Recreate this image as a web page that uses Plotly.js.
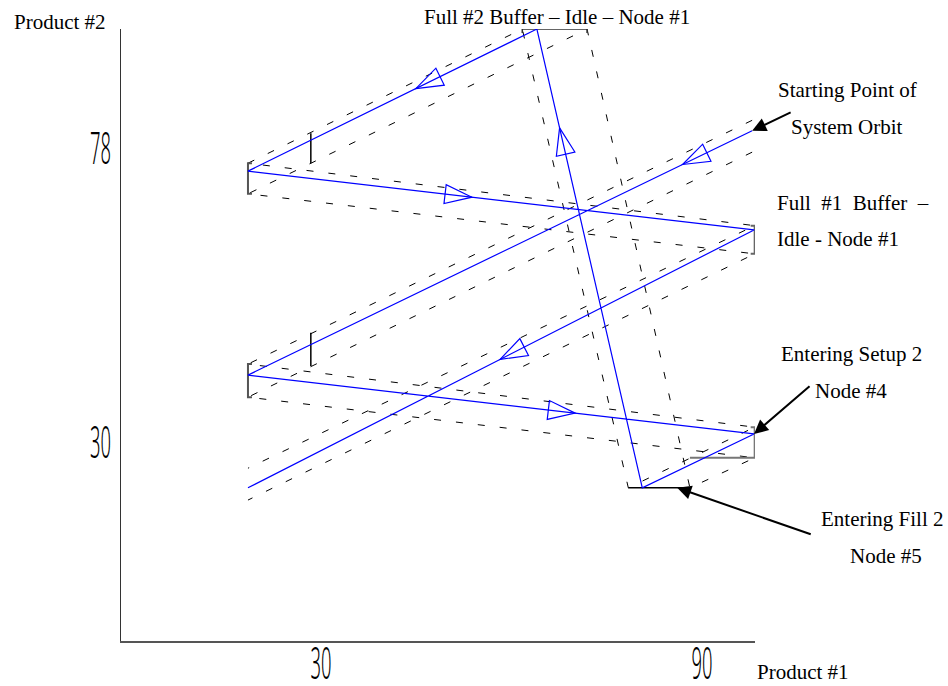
<!DOCTYPE html>
<html>
<head>
<meta charset="utf-8">
<script src="https://cdn.plot.ly/plotly-3.0.1.min.js"></script>
<style>
  html, body { margin: 0; padding: 0; background: #fff; }
  #chart { width: 948px; height: 686px; }
</style>
</head>
<body>
<div id="chart"></div>
<script>
// ---- Data ----
// System orbit (solid blue), in visiting order, starting at the "Starting Point"
const orbitX = [97.9, 18.5, 98.2, 80.6, 64.0, 18.5, 98.2, 18.5];
const orbitY = [80.9, 41.0, 31.4, 22.6, 97.5, 74.3, 64.7, 22.6];
// Envelope of the orbit (two dashed lines)
const upperX = [97.9, 18.5, 98.3, 78.4, 61.7, 18.5, 98.3, 18.5];
const upperY = [82.6, 42.8, 32.5, 22.6, 97.5, 75.6, 65.4, 25.8];
const lowerX = [97.9, 18.5, 98.3, 88.1, 71.9, 18.5, 98.3, 18.5];
const lowerY = [77.4, 37.4, 27.5, 22.6, 97.5, 70.6, 60.8, 20.6];
// Direction arrows on the orbit: segment index and fraction along the segment
const arrowSeg = [0, 1, 3, 4, 5, 6];
const arrowPos = [0.114, 0.62, 0.756, 0.377, 0.416, 0.478];
// Solid vertical markers across the envelope
const barX  = [28.4, 28.4];
const barY0 = [80.5, 47.9];
const barY1 = [75.6, 42.5];
// Callout arrow tips (Starting point, Node #4, Node #5)
const calloutX = [97.9, 98.2, 86.1];
const calloutY = [80.9, 31.4, 22.6];
// Tick labels
const xTickVals = [30, 90];
const xTickText = ['30', '90'];
const yTickVals = [30, 78];
const yTickText = ['30', '78'];

// ---- Layout geometry ----
const W = 948, H = 686;
const M = { l: 121, r: 193, t: 29, b: 45 };
const xRange = [-1.496, 98.35];
const yRange = [-2.41, 97.51];
const plotW = W - M.l - M.r, plotH = H - M.t - M.b;
const ppuX = plotW / (xRange[1] - xRange[0]);
const ppuY = plotH / (yRange[1] - yRange[0]);
const P = (px, py) => ({ x: (px - M.l) / plotW, y: (H - M.b - py) / plotH });

const serif = 'Liberation Serif, Times New Roman, serif';
const traces = [];

// dashed envelope
const dashStyle = { color: '#000', width: 1, dash: '7px,15px' };
traces.push({ x: upperX, y: upperY, mode: 'lines', line: dashStyle, hoverinfo: 'skip' });
traces.push({ x: lowerX, y: lowerY, mode: 'lines', line: dashStyle, hoverinfo: 'skip' });

// brackets built from envelope endpoints
const stubX = 4 / ppuX, stubY = 4 / ppuY;
function addLine(xs, ys, color, width) {
  traces.push({ x: xs, y: ys, mode: 'lines', line: { color: color, width: width }, hoverinfo: 'skip' });
}
// left brackets "[" (indices 1 and 5)
[1, 5].forEach(i => {
  addLine([upperX[i] + stubX, upperX[i], lowerX[i], lowerX[i] + stubX],
          [upperY[i], upperY[i], lowerY[i], lowerY[i]], '#555', 2);
});
// right upper bracket "]" (index 6)
addLine([upperX[6] - stubX, upperX[6], lowerX[6], lowerX[6] - stubX],
        [upperY[6], upperY[6], lowerY[6], lowerY[6]], '#666', 2);
// right lower bracket (index 2) running back to the bottom band
addLine([upperX[2] - stubX, upperX[2], lowerX[2], lowerX[3]],
        [upperY[2], upperY[2], lowerY[2], lowerY[2]], '#777', 2);
// top bracket (index 4)
addLine([upperX[4], upperX[4], lowerX[4], lowerX[4]],
        [upperY[4] - stubY, upperY[4], lowerY[4], lowerY[4] - stubY], '#333', 1.5);
// bottom bracket (index 3)
addLine([upperX[3], lowerX[3]], [upperY[3], lowerY[3]], '#000', 1.5);
// vertical markers
for (let i = 0; i < barX.length; i++) {
  addLine([barX[i], barX[i]], [barY0[i], barY1[i]], '#000', 1.5);
}

// orbit
traces.push({ x: orbitX, y: orbitY, mode: 'lines', line: { color: '#0000ff', width: 1.2 }, hoverinfo: 'skip' });

// direction arrows as hollow triangles (pixel-sized shapes anchored on the orbit)
const shapes = [];
const triL = 27, triW = 19;
for (let k = 0; k < arrowSeg.length; k++) {
  const s = arrowSeg[k], t = arrowPos[k];
  const ax = orbitX[s] + (orbitX[s + 1] - orbitX[s]) * t;
  const ay = orbitY[s] + (orbitY[s + 1] - orbitY[s]) * t;
  let dx = (orbitX[s + 1] - orbitX[s]) * ppuX;
  let dy = (orbitY[s + 1] - orbitY[s]) * ppuY;
  const n = Math.hypot(dx, dy); dx /= n; dy /= n;
  const px = -dy, py = dx;
  const tip = [dx * triL / 2, dy * triL / 2];
  const b1 = [-dx * triL / 2 + px * triW / 2, -dy * triL / 2 + py * triW / 2];
  const b2 = [-dx * triL / 2 - px * triW / 2, -dy * triL / 2 - py * triW / 2];
  const f = v => v.toFixed(2);
  shapes.push({
    type: 'path', xref: 'x', yref: 'y',
    xsizemode: 'pixel', ysizemode: 'pixel', xanchor: ax, yanchor: ay,
    path: `M${f(tip[0])},${f(tip[1])} L${f(b1[0])},${f(b1[1])} L${f(b2[0])},${f(b2[1])} Z`,
    line: { color: '#0000ff', width: 1.2 }, fillcolor: 'rgba(0,0,0,0)', layer: 'above'
  });
}

// text annotations
const annotations = [];
function addText(text, px, py, xanchor) {
  const p = P(px, py);
  annotations.push({
    xref: 'paper', yref: 'paper', x: p.x, y: p.y, text: text, showarrow: false,
    xanchor: xanchor || 'center', yanchor: 'middle',
    font: { family: serif, size: 21, color: '#000' }
  });
}
addText('Product #2', 12, 22, 'left');
addText('Full #2 Buffer \u2013 Idle \u2013 Node #1', 557, 16.5);
addText('Starting Point of', 847, 90);
addText('System Orbit', 847, 127);
addText('Full \u00a0#1 \u00a0Buffer \u00a0\u2013', 775, 203, 'left');
addText('Idle - Node #1', 775, 239, 'left');
addText('Entering Setup 2', 851, 354);
addText('Node #4', 851, 391);
addText('Entering Fill 2', 882, 519);
addText('Node #5', 886, 556);
addText('Product #1', 755, 672, 'left');

// callout arrows (tail offsets in pixels)
const calloutTail = [[40, -19], [57, -49], [135, 47]];
for (let i = 0; i < calloutX.length; i++) {
  annotations.push({
    xref: 'x', yref: 'y', x: calloutX[i], y: calloutY[i], text: '',
    showarrow: true, ax: calloutTail[i][0], ay: calloutTail[i][1],
    arrowhead: 2, arrowsize: 1.4, arrowwidth: 2, arrowcolor: '#000', standoff: 0
  });
}

const tickFont = { family: 'Noto Sans, Liberation Sans, sans-serif', size: 44, color: '#000', weight: 300 };
const layout = {
  width: W, height: H,
  margin: M,
  paper_bgcolor: '#fff', plot_bgcolor: '#fff',
  showlegend: false,
  xaxis: {
    range: xRange, showgrid: false, zeroline: false, showline: true,
    linecolor: '#555', linewidth: 1.5, ticks: '',
    tickmode: 'array', tickvals: xTickVals, ticktext: xTickText,
    tickfont: tickFont, fixedrange: true
  },
  yaxis: {
    range: yRange, showgrid: false, zeroline: false, showline: true,
    linecolor: '#333', linewidth: 1.2, ticks: '',
    tickmode: 'array', tickvals: yTickVals, ticktext: yTickText,
    tickfont: tickFont, fixedrange: true
  },
  shapes: shapes,
  annotations: annotations
};

Plotly.newPlot('chart', traces, layout, { staticPlot: true, displayModeBar: false }).then(() => {
  // condense the tall narrow tick digits; lift x labels closer to the axis
  try {
    const targetW = 21;
    const xLift = -16;
    document.querySelectorAll('#chart .xtick text, #chart .ytick text').forEach(t => {
      t.style.fontStretch = 'extra-condensed';
      const bb = t.getBBox();
      if (!bb.width) return;
      const s = Math.min(1, targetW / bb.width);
      const isY = !!t.closest('.ytick');
      const cx = isY ? bb.x + bb.width : bb.x + bb.width / 2;
      const base = t.getAttribute('transform') || '';
      const pre = isY ? '' : `translate(0,${xLift}) `;
      t.setAttribute('transform', pre + base + ` translate(${cx},0) scale(${s},1) translate(${-cx},0)`);
    });
  } catch (e) {}
});
</script>
</body>
</html>
